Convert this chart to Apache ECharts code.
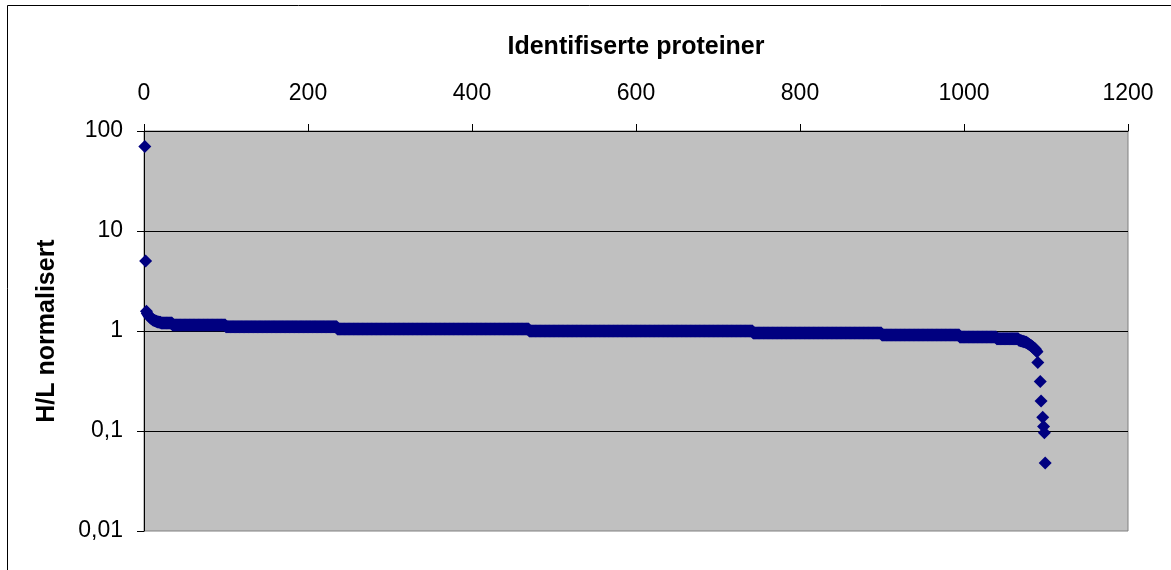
<!DOCTYPE html>
<html>
<head>
<meta charset="utf-8">
<script src="https://cdn.jsdelivr.net/npm/echarts@6/dist/echarts.min.js"></script>
<style>
  html, body { margin: 0; padding: 0; background: #ffffff; }
  #chart { width: 1171px; height: 570px; }
</style>
</head>
<body>
<div id="chart"></div>
<script>
// ---- Data ----
const xTitle = 'Identifiserte proteiner';
const yTitle = 'H/L normalisert';
const xMin = 0, xMax = 1200, xInterval = 200;
const yMin = 0.01, yMax = 100;

// first proteins (rank 1..20), explicit values
const headValues = [70, 5, 1.58, 1.50, 1.45, 1.41, 1.38, 1.35, 1.33, 1.31,
                    1.29, 1.28, 1.27, 1.26, 1.25, 1.24, 1.23, 1.23, 1.22, 1.22];
// long plateau part of the sorted list: value and number of proteins with it
const plateauValues = [1.20, 1.15, 1.10, 1.05, 1.00, 0.955, 0.91, 0.87, 0.835];
const plateauCounts = [14, 65, 136, 234, 273, 157, 95, 45, 27];
// curve before the low outliers (consecutive ranks after the plateaus)
const bendValues = [0.81, 0.81, 0.80, 0.80, 0.79, 0.79, 0.78, 0.78, 0.77, 0.77,
                    0.76, 0.75, 0.74, 0.73, 0.72, 0.71, 0.70, 0.69, 0.68, 0.67,
                    0.66, 0.64, 0.62];
// low outliers with their ranks
const lowRanks  = [1090, 1093, 1094, 1096, 1097, 1098, 1099];
const lowValues = [0.485, 0.313, 0.20, 0.137, 0.111, 0.096, 0.048];

// ---- Build the point list (rank, value) ----
const points = [];
let rank = 1;
headValues.forEach(v => { points.push([rank++, v]); });
plateauValues.forEach((v, i) => {
  for (let k = 0; k < plateauCounts[i]; k++) points.push([rank++, v]);
});
bendValues.forEach(v => { points.push([rank++, v]); });
lowValues.forEach((v, i) => { points.push([lowRanks[i], v]); });

const FONT = '"Liberation Sans", Arial, Helvetica, sans-serif';

const chart = echarts.init(document.getElementById('chart'), null, { renderer: 'canvas' });
chart.setOption({
  animation: false,
  backgroundColor: '#ffffff',
  textStyle: { fontFamily: FONT },
  graphic: [{
    type: 'rect',
    shape: { x: 7.5, y: 5.5, width: 1300, height: 700 },
    style: { fill: 'none', stroke: '#000000', lineWidth: 1 },
    silent: true
  }],
  grid: {
    left: 144, top: 131, width: 984, height: 400,
    show: true, backgroundColor: '#C0C0C0', borderColor: '#808080', borderWidth: 1
  },
  xAxis: {
    type: 'value', position: 'top',
    min: xMin, max: xMax, interval: xInterval,
    name: xTitle, nameLocation: 'middle', nameGap: 71,
    nameTextStyle: { fontFamily: FONT, fontSize: 25, fontWeight: 'bold', color: '#000' },
    axisLine: { show: true, onZero: false, lineStyle: { color: '#000', width: 1 } },
    axisTick: { show: true, inside: false, length: 7, lineStyle: { color: '#000' } },
    axisLabel: { fontFamily: FONT, fontSize: 23, color: '#000', margin: 26,
                 formatter: v => String(v) },
    splitLine: { show: false }
  },
  yAxis: {
    type: 'log', logBase: 10, min: yMin, max: yMax,
    name: yTitle, nameLocation: 'middle', nameGap: 84,
    nameTextStyle: { fontFamily: FONT, fontSize: 25, fontWeight: 'bold', color: '#000' },
    axisLine: { show: true, onZero: false, lineStyle: { color: '#000', width: 1 } },
    axisTick: { show: true, inside: false, length: 7, lineStyle: { color: '#000' } },
    axisLabel: {
      fontFamily: FONT, fontSize: 23, color: '#000', margin: 21,
      formatter: v => String(+v.toPrecision(6)).replace('.', ',')
    },
    splitLine: { show: true, showMinLine: false, showMaxLine: false,
                 lineStyle: { color: '#000', width: 1 } }
  },
  series: [{
    type: 'scatter',
    data: points,
    symbol: 'diamond',
    symbolSize: 13,
    clip: false,
    itemStyle: { color: '#000080', opacity: 1 },
    emphasis: { disabled: true }
  }]
});
</script>
</body>
</html>
